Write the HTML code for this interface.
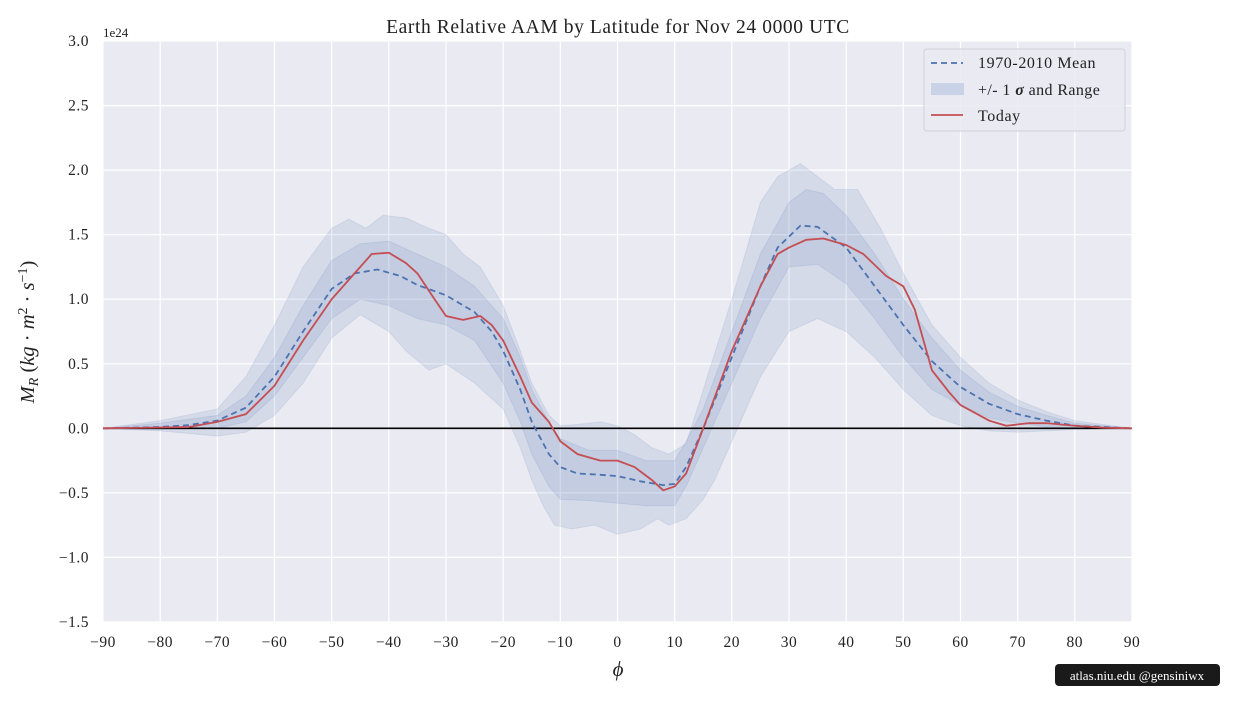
<!DOCTYPE html>
<html><head><meta charset="utf-8"><style>
html,body{margin:0;padding:0;background:#fff;}
svg text{font-family:"Liberation Serif",serif;fill:#222;}
</style></head><body>
<svg width="1246" height="700" xmlns="http://www.w3.org/2000/svg">
<rect x="103" y="41" width="1029" height="581" fill="#eaeaf2"/>
<g stroke="#fff" stroke-width="1.2">
<line x1="103" y1="41" x2="103" y2="622"/><line x1="160.2" y1="41" x2="160.2" y2="622"/><line x1="217.3" y1="41" x2="217.3" y2="622"/><line x1="274.5" y1="41" x2="274.5" y2="622"/><line x1="331.7" y1="41" x2="331.7" y2="622"/><line x1="388.8" y1="41" x2="388.8" y2="622"/><line x1="446" y1="41" x2="446" y2="622"/><line x1="503.2" y1="41" x2="503.2" y2="622"/><line x1="560.3" y1="41" x2="560.3" y2="622"/><line x1="617.5" y1="41" x2="617.5" y2="622"/><line x1="674.7" y1="41" x2="674.7" y2="622"/><line x1="731.8" y1="41" x2="731.8" y2="622"/><line x1="789" y1="41" x2="789" y2="622"/><line x1="846.2" y1="41" x2="846.2" y2="622"/><line x1="903.3" y1="41" x2="903.3" y2="622"/><line x1="960.5" y1="41" x2="960.5" y2="622"/><line x1="1017.7" y1="41" x2="1017.7" y2="622"/><line x1="1074.8" y1="41" x2="1074.8" y2="622"/><line x1="1132" y1="41" x2="1132" y2="622"/>
<line x1="103" y1="41" x2="1132" y2="41"/><line x1="103" y1="105.6" x2="1132" y2="105.6"/><line x1="103" y1="170.1" x2="1132" y2="170.1"/><line x1="103" y1="234.7" x2="1132" y2="234.7"/><line x1="103" y1="299.2" x2="1132" y2="299.2"/><line x1="103" y1="363.8" x2="1132" y2="363.8"/><line x1="103" y1="492.9" x2="1132" y2="492.9"/><line x1="103" y1="557.4" x2="1132" y2="557.4"/><line x1="103" y1="622" x2="1132" y2="622"/>
</g>
<g font-size="15.5" text-anchor="middle" letter-spacing="0.5">
<text x="103" y="647">−90</text><text x="160.2" y="647">−80</text><text x="217.3" y="647">−70</text><text x="274.5" y="647">−60</text><text x="331.7" y="647">−50</text><text x="388.8" y="647">−40</text><text x="446" y="647">−30</text><text x="503.2" y="647">−20</text><text x="560.3" y="647">−10</text><text x="617.5" y="647">0</text><text x="674.7" y="647">10</text><text x="731.8" y="647">20</text><text x="789" y="647">30</text><text x="846.2" y="647">40</text><text x="903.3" y="647">50</text><text x="960.5" y="647">60</text><text x="1017.7" y="647">70</text><text x="1074.8" y="647">80</text><text x="1132" y="647">90</text>
</g>
<g font-size="15.5" text-anchor="end" letter-spacing="0.5">
<text x="89" y="46">3.0</text><text x="89" y="110.6">2.5</text><text x="89" y="175.1">2.0</text><text x="89" y="239.7">1.5</text><text x="89" y="304.2">1.0</text><text x="89" y="368.8">0.5</text><text x="89" y="433.3">0.0</text><text x="89" y="497.9">−0.5</text><text x="89" y="562.4">−1.0</text><text x="89" y="627">−1.5</text>
</g>
<g transform="translate(617.5,428.33) scale(5.7167,-129.11)">
<polygon fill="#4c72b0" fill-opacity="0.13" stroke="#4c72b0" stroke-opacity="0.12" vector-effect="non-scaling-stroke" points="-90,0 -80,.06 -70,.15 -65,.4 -60,.8 -55,1.25 -50,1.55 -47,1.62 -44,1.55 -41,1.65 -37,1.63 -33,1.55 -30,1.5 -27,1.35 -24,1.25 -20,.95 -17,.6 -15,.35 -12,.1 -10,.02 -7,.03 -3,.05 0,.02 3,-.05 6,-.15 9,-.2 12,-.12 15,.3 20,1.0 25,1.75 28,1.95 32,2.05 35,1.95 38,1.85 42,1.85 46,1.55 50,1.2 55,.8 60,.55 65,.35 70,.22 75,.13 80,.06 90,0 80,-.01 75,-.02 70,-.03 65,-.02 60,.02 55,.1 50,.3 45,.55 40,.75 35,.85 30,.75 25,.4 20,-.1 17,-.4 15,-.55 12,-.7 9,-.75 7,-.7 4,-.78 0,-.82 -4,-.75 -8,-.78 -11,-.75 -13,-.6 -15,-.4 -17,-.15 -20,.15 -25,.35 -30,.5 -33,.45 -37,.6 -40,.75 -45,.88 -50,.7 -55,.35 -60,.1 -65,-.03 -70,-.06 -80,-.02"/>
<polygon fill="#4c72b0" fill-opacity="0.13" stroke="#4c72b0" stroke-opacity="0.12" vector-effect="non-scaling-stroke" points="-90,0 -80,.04 -70,.1 -65,.25 -60,.55 -55,.95 -50,1.3 -45,1.43 -40,1.45 -35,1.35 -30,1.25 -25,1.1 -20,.85 -17,.55 -15,.3 -12,.05 -10,-.08 -5,-.17 0,-.17 5,-.25 10,-.25 12,-.1 15,.15 20,.75 25,1.35 30,1.75 33,1.85 36,1.82 40,1.65 45,1.35 50,1.0 55,.7 60,.45 65,.28 70,.17 75,.1 80,.04 90,0 80,0 75,.01 70,.04 65,.08 60,.18 55,.3 50,.55 45,.85 40,1.12 35,1.27 30,1.25 25,.85 20,.35 15,-.15 12,-.45 10,-.6 5,-.6 0,-.58 -5,-.56 -10,-.55 -12,-.45 -15,-.2 -17,.05 -20,.35 -25,.68 -30,.8 -35,.85 -40,.95 -45,1.0 -50,.85 -55,.55 -60,.25 -65,.05 -70,0 -80,-.01"/>
</g>
<line x1="103" y1="428.3" x2="1132" y2="428.3" stroke="#000" stroke-width="1.6"/>
<polyline fill="none" stroke="#4c72b0" stroke-width="1.8" stroke-dasharray="6,4" stroke-linejoin="round" points="103,428.3 160.2,427.0 188.7,425.1 217.3,420.6 245.9,407.7 274.5,376.7 303.1,331.5 331.7,288.9 354.5,273.4 377.4,269.5 400.3,276.0 417.4,285.0 446.0,295.3 474.6,312.1 491.7,331.5 503.2,350.9 520.3,389.6 531.8,421.9 548.9,454.1 560.3,467.1 577.5,473.5 600.4,474.8 617.5,476.1 640.4,481.3 663.2,485.1 674.7,483.9 686.1,467.1 703.3,428.3 731.8,357.3 760.4,286.3 777.6,247.6 800.4,225.6 817.6,226.9 846.2,247.6 874.8,286.3 903.3,325.0 931.9,361.2 960.5,387.0 989.1,403.8 1017.7,414.1 1046.2,420.6 1074.8,425.7 1132,428.3"/>
<g transform="translate(617.5,428.33) scale(5.7167,-129.11)">
<polyline fill="none" stroke="#c44e52" stroke-width="1.8" stroke-linejoin="round" vector-effect="non-scaling-stroke" points="-90,0 -75,.01 -70,.05 -65,.11 -60,.33 -55,.68 -50,1.0 -46,1.2 -43,1.35 -40,1.36 -37,1.28 -35,1.2 -32,1.0 -30,.87 -27,.84 -24,.87 -22,.8 -20,.68 -17,.4 -15,.2 -12,.05 -10,-.1 -7,-.2 -3,-.25 0,-.25 3,-.3 6,-.4 8,-.48 10,-.45 12,-.35 15,0 20,.6 25,1.1 28,1.35 30,1.4 33,1.46 36,1.47 40,1.42 43,1.35 47,1.18 50,1.1 52,.92 55,.45 58,.28 60,.18 65,.06 68,.02 72,.04 75,.04 80,.02 85,.005 90,0"/>
</g>
<text x="618" y="33" font-size="19.5" letter-spacing="0.6" text-anchor="middle">Earth Relative AAM by Latitude for Nov 24 0000 UTC</text>
<text x="103" y="37" font-size="13">1e24</text>
<text x="618" y="676" font-size="21" font-style="italic" text-anchor="middle">ϕ</text>
<text transform="translate(34,332) rotate(-90)" font-size="20.5" text-anchor="middle"><tspan font-style="italic">M</tspan><tspan font-size="14" dy="4" font-style="italic">R</tspan><tspan dy="-4">  (</tspan><tspan font-style="italic">kg</tspan> · <tspan font-style="italic">m</tspan><tspan font-size="14" dy="-7">2</tspan><tspan dy="7"> · </tspan><tspan font-style="italic">s</tspan><tspan font-size="14" dy="-7">−1</tspan><tspan dy="7">)</tspan></text>
<rect x="924" y="49" width="201" height="82" rx="3" fill="#eaeaf2" fill-opacity="0.85" stroke="#d0d0d8"/>
<line x1="931" y1="63" x2="963" y2="63" stroke="#4c72b0" stroke-width="1.8" stroke-dasharray="6,4"/>
<text x="978" y="68" font-size="16" letter-spacing="0.6">1970-2010 Mean</text>
<rect x="931" y="83" width="33" height="12" fill="#c9d2e6"/>
<text x="978" y="95" font-size="16" letter-spacing="0.4">+/- 1 <tspan font-style="italic" font-weight="bold">σ</tspan> and Range</text>
<line x1="931" y1="115" x2="963" y2="115" stroke="#c44e52" stroke-width="1.8"/>
<text x="978" y="121" font-size="16" letter-spacing="0.6">Today</text>
<rect x="1055" y="664" width="165" height="22" rx="4" fill="#1a1a1a"/>
<text x="1137" y="680" font-size="13" text-anchor="middle" style="fill:#fff">atlas.niu.edu  @gensiniwx</text>
</svg>
</body></html>
